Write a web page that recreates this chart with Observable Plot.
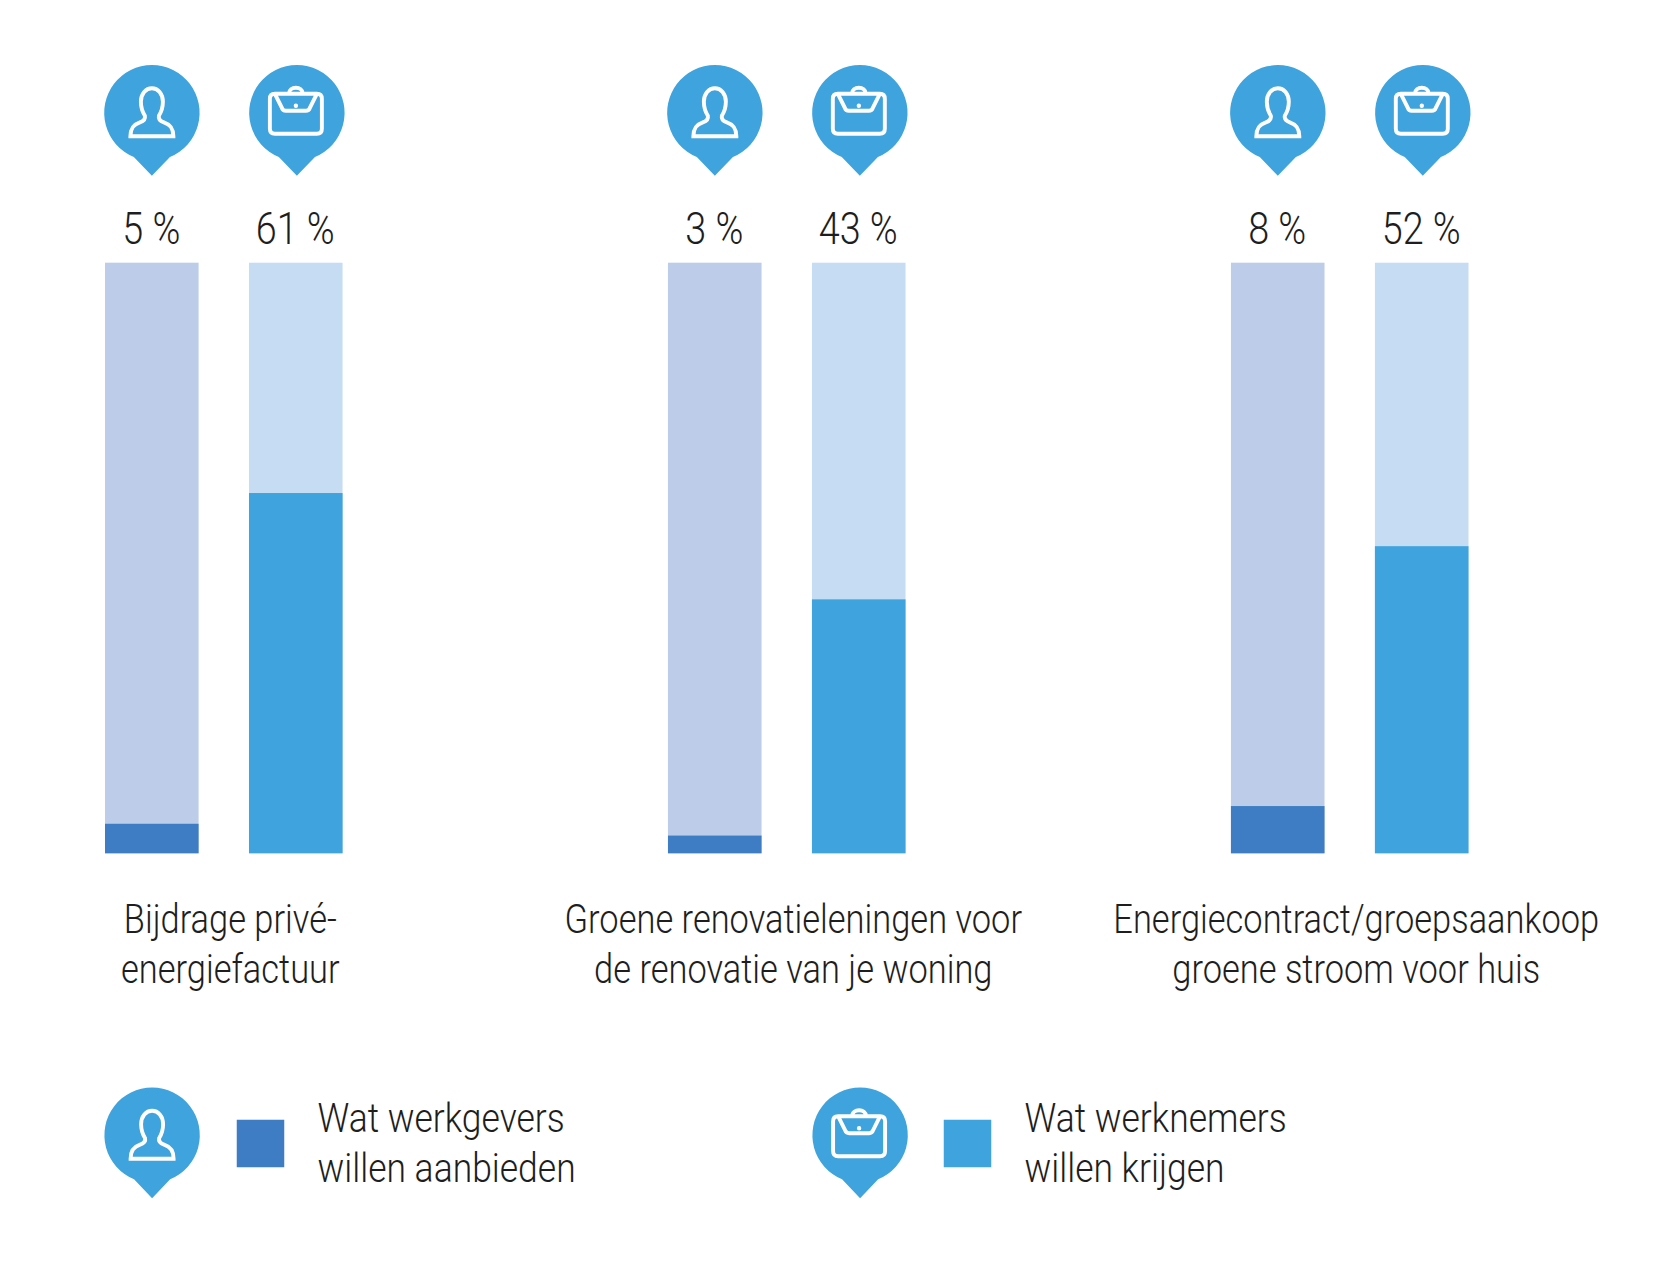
<!DOCTYPE html>
<html lang="nl">
<head>
<meta charset="utf-8">
<title>Wat werkgevers willen aanbieden en wat werknemers willen krijgen</title>
<script src="https://cdn.jsdelivr.net/npm/d3@7"></script>
<script src="https://cdn.jsdelivr.net/npm/@observablehq/plot@0.6"></script>
<style>
  html, body { margin: 0; padding: 0; background: #fff; }
  svg { display: block; }
</style>
</head>
<body>
<div id="chart"></div>
<div id="legend"></div>
<script>
const groups = [
  "Bijdrage privé-\nenergiefactuur",
  "Groene renovatieleningen voor\nde renovatie van je woning",
  "Energiecontract/groepsaankoop\ngroene stroom voor huis"
];
const seriesKeys = ["werkgevers", "werknemers"];
const seriesLabels = ["Wat werkgevers\nwillen aanbieden", "Wat werknemers\nwillen krijgen"];
const werkgeversValues = [5, 3, 8];
const werknemersValues = [61, 43, 52];
const fullScale = 100;

const darkColors = {werkgevers: "#3e7dc4", werknemers: "#3fa4dd"};
const lightColors = {werkgevers: "#bdcce9", werknemers: "#c6dcf3"};
const pinColor = "#3fa4dd";
const inkColor = "#1e1e1e";
const fontFamily = "Roboto, 'Liberation Sans', sans-serif";
const fontWeight = 300;

const rows = groups.flatMap((group, i) => [
  {group, series: "werkgevers", value: werkgeversValues[i]},
  {group, series: "werknemers", value: werknemersValues[i]}
]);

// Map-pin outline and the two line icons, as custom symbols for Plot.dot
const pinSymbol = {draw(c) {
  const r = 47.7, a = Math.atan2(44, 18);
  c.arc(0, 0, r, Math.PI - a, a);
  c.lineTo(0, 63);
  c.closePath();
}};
const personSymbol = {draw(c) {
  c.moveTo(-21.5, 23.5);
  c.lineTo(21.5, 23.5);
  c.bezierCurveTo(21.5, 15, 18, 11.5, 12, 9.5);
  c.bezierCurveTo(7.5, 8, 6.5, 5.5, 7, 3);
  c.bezierCurveTo(9.5, -1, 11, -6, 11, -11);
  c.bezierCurveTo(11, -19, 6, -24.5, 0, -24.5);
  c.bezierCurveTo(-6, -24.5, -11, -19, -11, -11);
  c.bezierCurveTo(-11, -6, -9.5, -1, -7, 3);
  c.bezierCurveTo(-6.5, 5.5, -7.5, 8, -12, 9.5);
  c.bezierCurveTo(-18, 11.5, -21.5, 15, -21.5, 23.5);
  c.closePath();
}};
const bagSymbol = {draw(c) {
  const l = -27, t = -19, w = 52, h = 40, q = 5;
  c.moveTo(l + q, t);
  c.lineTo(l + w - q, t);
  c.quadraticCurveTo(l + w, t, l + w, t + q);
  c.lineTo(l + w, t + h - q);
  c.quadraticCurveTo(l + w, t + h, l + w - q, t + h);
  c.lineTo(l + q, t + h);
  c.quadraticCurveTo(l, t + h, l, t + h - q);
  c.lineTo(l, t + q);
  c.quadraticCurveTo(l, t, l + q, t);
  c.closePath();
  // flap
  c.moveTo(l + 5, t);
  c.lineTo(l + 12, t + 14);
  c.quadraticCurveTo(l + 13, t + 17, l + 16, t + 17);
  c.lineTo(l + w - 16, t + 17);
  c.quadraticCurveTo(l + w - 13, t + 17, l + w - 12, t + 14);
  c.lineTo(l + w - 5, t);
  // handle
  c.moveTo(-8, t);
  c.bezierCurveTo(-8, -27, 6, -27, 6, t);
}};
const bagDotSymbol = {draw(c) {
  c.arc(-1, -7, 2.2, 0, 2 * Math.PI);
  c.closePath();
}};

const isEmployer = d => d.series === "werkgevers";
const isEmployee = d => d.series === "werknemers";

function pinMarks(data, position) {
  const employers = {...position, dx: -0.4};
  const employees = {...position, dx: 0.6};
  return [
    Plot.dot(data.filter(isEmployer), {...employers, symbol: pinSymbol, fill: pinColor, stroke: "none"}),
    Plot.dot(data.filter(isEmployee), {...employees, symbol: pinSymbol, fill: pinColor, stroke: "none"}),
    Plot.dot(data.filter(isEmployer), {...employers, symbol: personSymbol, fill: "none", stroke: "#fff", strokeWidth: 3.9}),
    Plot.dot(data.filter(isEmployee), {...employees, symbol: bagSymbol, fill: "none", stroke: "#fff", strokeWidth: 3.9}),
    Plot.dot(data.filter(isEmployee), {...employees, symbol: bagDotSymbol, fill: "#fff", stroke: "none"})
  ];
}

// No condensed face is installed: squeeze the real text horizontally
function condense(svg, className, factor) {
  for (const node of svg.querySelectorAll(`.${className} text`)) {
    node.setAttribute("transform", `${node.getAttribute("transform") || ""} scale(${factor},1)`);
  }
}

const chart = Plot.plot({
  width: 1665,
  height: 1010,
  marginTop: 262.7,
  marginBottom: 156.7,
  marginLeft: 105,
  marginRight: 196.5,
  style: {background: "#fff"},
  fx: {domain: groups, axis: null, paddingInner: 0.578, paddingOuter: 0, align: 0, round: false, label: null},
  x: {domain: seriesKeys, axis: null, paddingInner: 0.35, paddingOuter: 0, round: false, label: null},
  y: {domain: [0, fullScale], axis: null, label: null},
  marks: [
    Plot.barY(rows, {fx: "group", x: "series", y: () => fullScale, fill: d => lightColors[d.series]}),
    Plot.barY(rows, {fx: "group", x: "series", y: "value", fill: d => darkColors[d.series]}),
    Plot.text(rows, {
      fx: "group", x: "series", y: () => fullScale, text: d => `${d.value} %`,
      dx: -1, dy: -19, lineAnchor: "bottom", fontSize: 45, fontWeight, fontFamily, fill: inkColor,
      className: "pct"
    }),
    ...pinMarks(rows, {fx: "group", x: "series", y: () => fullScale, dy: -150.4}),
    Plot.text(groups, {
      fx: d => d, text: d => d, frameAnchor: "bottom", dx: 6, dy: 43.5,
      lineAnchor: "top", lineHeight: 1.22, fontSize: 41, fontWeight, fontFamily, fill: inkColor,
      className: "cat"
    })
  ]
});
condense(chart, "pct", 0.84);
condense(chart, "cat", 0.84);
document.getElementById("chart").append(chart);

const legendRows = seriesKeys.map((series, i) => ({series, label: seriesLabels[i]}));
const legend = Plot.plot({
  width: 1665,
  height: 255,
  margin: 0,
  style: {background: "#fff"},
  x: {type: "point", domain: seriesKeys, range: [151.5, 859], padding: 0, axis: null, label: null},
  marks: [
    ...pinMarks(legendRows, {x: "series", frameAnchor: "middle", dy: -2.8}),
    Plot.dot(legendRows, {
      x: "series", frameAnchor: "middle", symbol: "square", r: 26.8, dx: 108, dy: 5.5,
      fill: d => darkColors[d.series], stroke: "none"
    }),
    Plot.text(legendRows, {
      x: "series", text: "label", frameAnchor: "middle", textAnchor: "start", dx: 165, dy: 3,
      lineAnchor: "middle", lineHeight: 1.22, fontSize: 41, fontWeight, fontFamily, fill: inkColor,
      className: "lgd"
    })
  ]
});
condense(legend, "lgd", 0.865);
document.getElementById("legend").append(legend);
</script>
</body>
</html>
